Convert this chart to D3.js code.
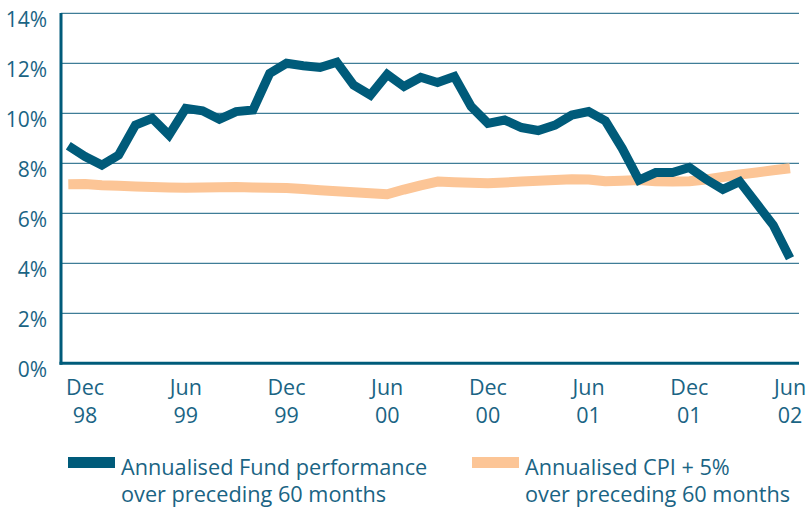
<!DOCTYPE html>
<html><head><meta charset="utf-8">
<script src="https://cdn.jsdelivr.net/npm/d3@7"></script>
<style>
html,body{margin:0;padding:0;background:#fff;}
svg{display:block;}
text{font-family:"Open Sans",sans-serif;fill:#1a6484;}
</style></head>
<body>
<svg id="chart" width="810" height="508"></svg>
<script>
// Monthly, Nov 98 .. Jun 02 (44 points)
const fundValues = [8.7,8.27,7.93,8.33,9.53,9.8,9.13,10.2,10.1,9.76,10.07,10.13,
  11.6,12.0,11.9,11.83,12.04,11.13,10.73,11.56,11.07,11.44,11.23,11.47,
  10.27,9.6,9.73,9.43,9.31,9.53,9.93,10.07,9.7,8.6,7.33,7.63,
  7.63,7.83,7.36,6.96,7.27,6.4,5.53,4.2];
const cpiValues = [7.16,7.17,7.12,7.1,7.07,7.05,7.03,7.02,7.03,7.04,7.05,7.03,
  7.02,7.01,6.97,6.92,6.88,6.84,6.8,6.76,6.95,7.12,7.27,7.24,
  7.22,7.2,7.23,7.27,7.3,7.33,7.36,7.35,7.28,7.3,7.33,7.28,
  7.27,7.28,7.35,7.45,7.55,7.63,7.72,7.8];
const xTickIndex = [1,7,13,19,25,31,37,43];
const xTickMonths = ["Dec","Jun","Dec","Jun","Dec","Jun","Dec","Jun"];
const xTickYears = ["98","99","99","00","00","01","01","02"];
const yTicks = [0,2,4,6,8,10,12,14];
const legendLabels = [["Annualised Fund performance","over preceding 60 months"],
                      ["Annualised CPI + 5%","over preceding 60 months"]];

const fundColor = "#005b7a", cpiColor = "#fcc596", gridColor = "#3f7d97";
const svg = d3.select("#chart");
const x = d3.scaleLinear().domain([0, fundValues.length-1]).range([68.3, 790]);
const y = d3.scaleLinear().domain([0, 14]).range([363.3, 13.3]);
const plotLeft = 61, plotRight = 799;

// gridlines
svg.append("g").selectAll("line").data(yTicks.filter(d=>d>0)).join("line")
  .attr("x1", plotLeft).attr("x2", plotRight)
  .attr("y1", d=>y(d)).attr("y2", d=>y(d))
  .attr("stroke", gridColor).attr("stroke-width", 1.2);

// y labels
svg.append("g").selectAll("text").data(yTicks).join("text")
  .attr("x", 47).attr("y", d=>y(d)+13.5)
  .attr("text-anchor","end").attr("font-size", 21)
  .text(d=>d+"%");

// lines
const line = d3.line().x((d,i)=>x(i)).y(d=>y(d));
svg.append("path").datum(cpiValues).attr("d", line)
  .attr("fill","none").attr("stroke", cpiColor).attr("stroke-width", 10)
  .attr("stroke-linejoin","round");
svg.append("path").datum(fundValues).attr("d", line)
  .attr("fill","none").attr("stroke", fundColor).attr("stroke-width", 9)
  .attr("stroke-linejoin","miter");

// axes
svg.append("line").attr("x1", plotLeft).attr("x2", plotLeft)
  .attr("y1", 13).attr("y2", y(0)+1.5)
  .attr("stroke", fundColor).attr("stroke-width", 3);
svg.append("line").attr("x1", plotLeft-1.5).attr("x2", plotRight)
  .attr("y1", y(0)).attr("y2", y(0))
  .attr("stroke", fundColor).attr("stroke-width", 3);

// x labels
const xl = svg.append("g").selectAll("g").data(xTickIndex).join("g");
xl.append("text").attr("x", d=>x(d)).attr("y", 395).attr("text-anchor","middle")
  .attr("font-size", 21.5).text((d,i)=>xTickMonths[i]);
xl.append("text").attr("x", d=>x(d)).attr("y", 423).attr("text-anchor","middle")
  .attr("font-size", 21.5).text((d,i)=>xTickYears[i]);

// legend
const legendPos = [{sx:68, tx:121, c:fundColor},{sx:472, tx:525, c:cpiColor}];
legendPos.forEach((p,k)=>{
  svg.append("rect").attr("x", p.sx).attr("y", 457).attr("width", 47).attr("height", 11).attr("fill", p.c);
  svg.append("text").attr("x", p.tx).attr("y", 475).attr("font-size", 21.7).text(legendLabels[k][0]);
  svg.append("text").attr("x", p.tx).attr("y", 502).attr("font-size", 21.7).text(legendLabels[k][1]);
});
</script>
</body></html>
